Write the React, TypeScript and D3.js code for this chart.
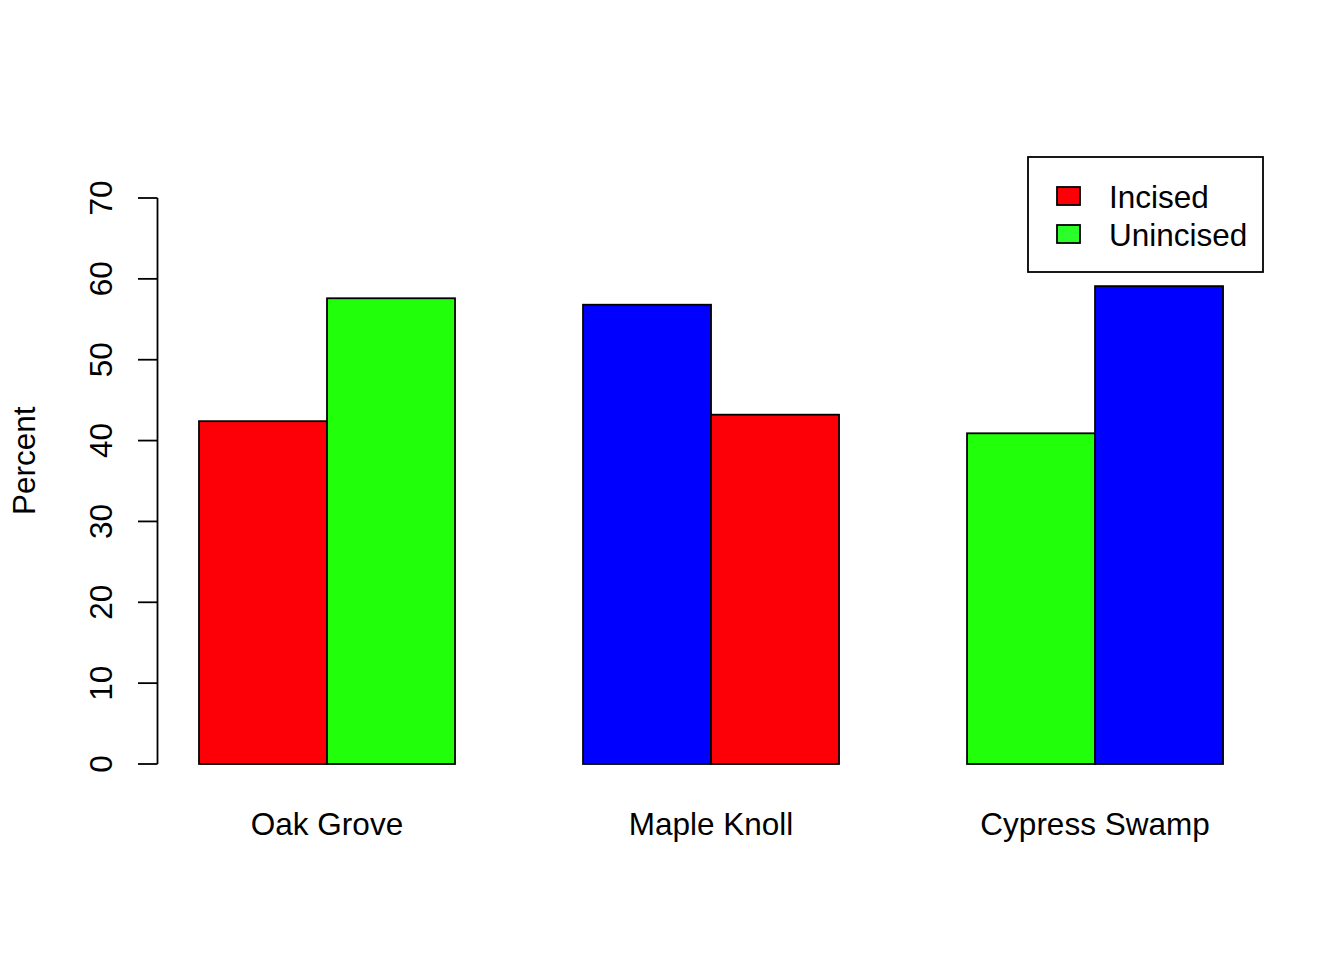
import React from "react";
import * as d3 from "d3";

const categories = ["Oak Grove", "Maple Knoll", "Cypress Swamp"];
const seriesNames = ["Incised", "Unincised"];
const incised = [42.4, 56.8, 40.9];
const unincised = [57.6, 43.2, 59.1];
const barPalette = ["#FD0007", "#22FF0A", "#0000FF"];
const legendColors = ["#FD0007", "#2AFF2A"];
const yTicks = [0, 10, 20, 30, 40, 50, 60, 70];

const W = 1344;
const H = 960;
const FONT = "'Liberation Sans', Arial, Helvetica, sans-serif";
const FS = 31.5;

export default function App() {
  // R barplot layout: space=c(0,1), width 1 per bar
  const x = d3.scaleLinear().domain([0.68, 9.32]).range([158.04, 1264]);
  const y = d3.scaleLinear().domain([-3, 78]).range([764 + 3 * (566 / 70), 764 - 78 * (566 / 70)]);

  const bars: { x0: number; v: number; color: string }[] = [];
  let idx = 0;
  categories.forEach((_, g) => {
    const start = 1 + g * 3;
    [incised[g], unincised[g]].forEach((v, k) => {
      bars.push({ x0: start + k, v, color: barPalette[idx % barPalette.length] });
      idx++;
    });
  });

  return (
    <svg width={W} height={H} style={{ display: "block", position: "absolute", left: 0, top: 0, background: "#fff" }}>
      <rect x={0} y={0} width={W} height={H} fill="#fff" />
      {bars.map((b, i) => (
        <rect
          key={i}
          x={x(b.x0)}
          y={y(b.v)}
          width={x(b.x0 + 1) - x(b.x0)}
          height={y(0) - y(b.v)}
          fill={b.color}
          stroke="#000"
          strokeWidth={1.8}
        />
      ))}
      {/* y axis */}
      <line x1={157.5} x2={157.5} y1={y(0)} y2={y(70)} stroke="#000" strokeWidth={1.8} />
      {yTicks.map((t) => (
        <g key={t}>
          <line x1={138} x2={157.5} y1={y(t)} y2={y(t)} stroke="#000" strokeWidth={1.8} />
          <text
            transform={`translate(112,${y(t)}) rotate(-90)`}
            textAnchor="middle"
            fontFamily={FONT}
            fontSize={FS}
            fill="#000"
          >
            {t}
          </text>
        </g>
      ))}
      <text
        transform={`translate(35,${y(37.5)}) rotate(-90)`}
        textAnchor="middle"
        fontFamily={FONT}
        fontSize={FS}
        fill="#000"
      >
        Percent
      </text>
      {categories.map((c, g) => (
        <text key={c} x={x(2 + g * 3)} y={835} textAnchor="middle" fontFamily={FONT} fontSize={FS} fill="#000">
          {c}
        </text>
      ))}
      {/* legend */}
      <rect x={1028} y={157} width={235} height={115} fill="#fff" stroke="#000" strokeWidth={1.8} />
      {seriesNames.map((s, i) => (
        <g key={s}>
          <rect x={1057} y={187 + i * 38} width={23} height={18} fill={legendColors[i]} stroke="#000" strokeWidth={1.8} />
          <text x={1109} y={208 + i * 38} fontFamily={FONT} fontSize={FS} fill="#000">
            {s}
          </text>
        </g>
      ))}
    </svg>
  );
}
